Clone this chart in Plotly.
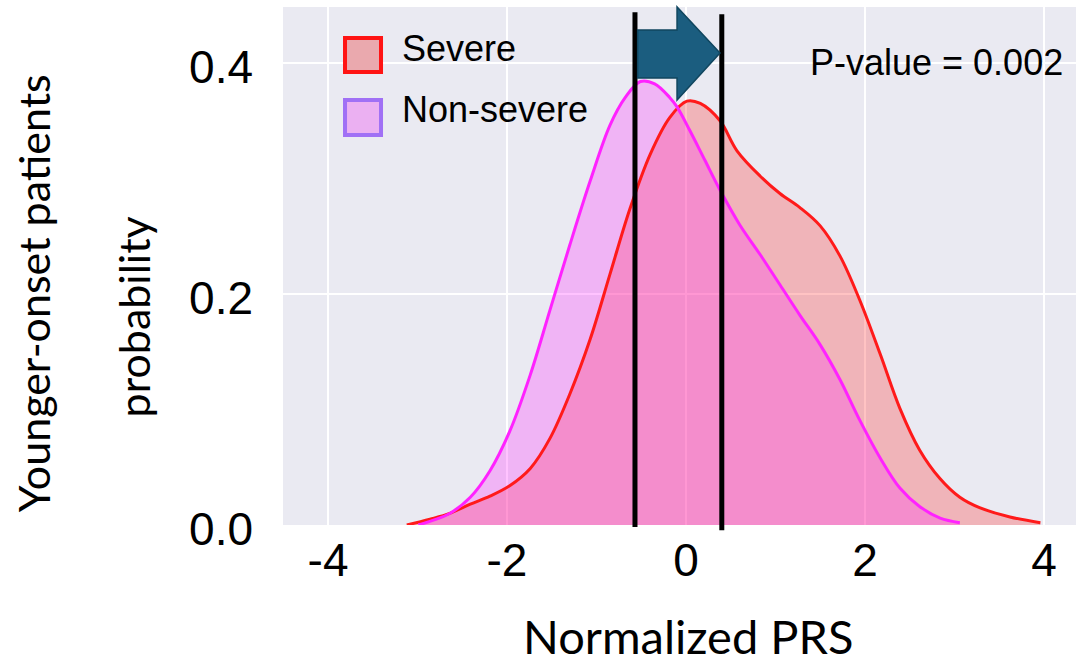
import plotly.graph_objects as go

# ---- data ----
severe_x = [-3.12, -2.86, -2.64, -2.41, -2.19, -1.97, -1.74, -1.52, -1.30, -1.07,
            -0.85, -0.63, -0.40, -0.18, 0.01, 0.16, 0.38, 0.57, 0.83, 1.05,
            1.27, 1.50, 1.72, 1.94, 2.17, 2.39, 2.61, 2.84, 3.06, 3.28, 3.62, 3.96]
severe_y = [0.000, 0.005, 0.010, 0.018, 0.025, 0.034, 0.049, 0.075, 0.113, 0.161,
            0.217, 0.273, 0.321, 0.353, 0.367, 0.365, 0.350, 0.324, 0.302, 0.287,
            0.275, 0.259, 0.233, 0.195, 0.148, 0.101, 0.065, 0.040, 0.024, 0.015, 0.007, 0.002]

nonsevere_x = [-2.99, -2.83, -2.64, -2.41, -2.19, -1.97, -1.74, -1.52, -1.30,
               -1.07, -0.85, -0.68, -0.51, -0.35, -0.18, -0.10, 0.04, 0.21, 0.38,
               0.60, 0.83, 1.05, 1.27, 1.50, 1.72, 1.94, 2.17, 2.39, 2.61, 2.84, 3.06]
nonsevere_y = [0.000, 0.004, 0.010, 0.024, 0.047, 0.081, 0.130, 0.186, 0.242,
               0.298, 0.346, 0.370, 0.384, 0.382, 0.370, 0.362, 0.342, 0.316, 0.290,
               0.260, 0.234, 0.208, 0.182, 0.156, 0.126, 0.091, 0.058, 0.032, 0.016, 0.006, 0.002]

group_centers = [-0.57, 0.40]          # positions of the two black reference lines
series_names = ["Severe", "Non-severe"]
p_value_text = "P-value = 0.002"

x_tickvals = [-4, -2, 0, 2, 4]
x_ticktext = ["-4", "-2", "0", "2", "4"]
y_tickvals = [0.0, 0.2, 0.4]
y_ticktext = ["0.0", "0.2", "0.4"]

RED = "#ff1a1a"
MAG = "#ff22ff"
RED_FILL = "rgba(255,40,40,0.28)"
MAG_FILL = "rgba(255,40,255,0.28)"
ARIAL = "Liberation Sans, Arial, sans-serif"
TITLE_FONT = "Lato, sans-serif"

fig = go.Figure()
# fills first
fig.add_trace(go.Scatter(x=severe_x, y=severe_y, mode="lines", line=dict(width=0, shape="spline"),
                         fill="tozeroy", fillcolor=RED_FILL, showlegend=False, hoverinfo="skip"))
fig.add_trace(go.Scatter(x=nonsevere_x, y=nonsevere_y, mode="lines", line=dict(width=0, shape="spline"),
                         fill="tozeroy", fillcolor=MAG_FILL, showlegend=False, hoverinfo="skip"))
# lines on top
fig.add_trace(go.Scatter(x=severe_x, y=severe_y, mode="lines", name=series_names[0],
                         line=dict(color=RED, width=3, shape="spline"), showlegend=False))
fig.add_trace(go.Scatter(x=nonsevere_x, y=nonsevere_y, mode="lines", name=series_names[1],
                         line=dict(color=MAG, width=3, shape="spline"), showlegend=False))

# black vertical lines
fig.add_shape(type="line", xref="x", yref="paper", x0=group_centers[0], x1=group_centers[0],
              y0=-0.004, y1=0.990, line=dict(color="black", width=5), layer="above")
fig.add_shape(type="line", xref="x", yref="paper", x0=group_centers[1], x1=group_centers[1],
              y0=-0.010, y1=0.986, line=dict(color="black", width=5), layer="above")

# block arrow between the two lines
tail = group_centers[0] + 0.03
tip = group_centers[1] - 0.02
hb = tip - 0.48
path = (f"M {tail},0.9556 L {hb},0.9556 L {hb},1.0 L {tip},0.9112 L {hb},0.8205 "
        f"L {hb},0.8629 L {tail},0.8629 Z")
fig.add_shape(type="path", xref="x", yref="paper", path=path,
              fillcolor="#1b5d7f", line=dict(color="#10465f", width=1.5), layer="above")

# legend swatches
fig.add_shape(type="rect", xref="paper", yref="paper", x0=0.0782, x1=0.1236, y0=0.8745, y1=0.9402,
              fillcolor="#eaa9ae", line=dict(color="#ff1414", width=4), layer="above")
fig.add_shape(type="rect", xref="paper", yref="paper", x0=0.0782, x1=0.1236, y0=0.7529, y1=0.8205,
              fillcolor="#ebb0f2", line=dict(color="#a070f5", width=4), layer="above")
fig.add_annotation(xref="paper", yref="paper", x=0.1475, y=0.9208, text=series_names[0],
                   showarrow=False, xanchor="left", yanchor="middle",
                   font=dict(family=ARIAL, size=36, color="black"))
fig.add_annotation(xref="paper", yref="paper", x=0.1475, y=0.8012, text=series_names[1],
                   showarrow=False, xanchor="left", yanchor="middle",
                   font=dict(family=ARIAL, size=36, color="black"))
fig.add_annotation(xref="paper", yref="paper", x=0.9861, y=0.892, text=p_value_text,
                   showarrow=False, xanchor="right", yanchor="middle",
                   font=dict(family=ARIAL, size=36, color="black"))

# axis titles
fig.add_annotation(xref="paper", yref="paper", x=0.5107, y=-0.214, text="Normalized PRS",
                   showarrow=False, xanchor="center", yanchor="middle",
                   font=dict(family=TITLE_FONT, size=47, color="black"))
fig.add_annotation(xref="paper", yref="paper", x=-0.3135, y=0.448, text="Younger-onset patients",
                   showarrow=False, textangle=-90, xanchor="center", yanchor="middle",
                   font=dict(family=TITLE_FONT, size=43, color="black"))
fig.add_annotation(xref="paper", yref="paper", x=-0.188, y=0.4025, text="probability",
                   showarrow=False, textangle=-90, xanchor="center", yanchor="middle",
                   font=dict(family=TITLE_FONT, size=43, color="black"))

fig.update_layout(
    width=1076, height=664,
    margin=dict(l=283, r=0, t=7, b=139),
    paper_bgcolor="white", plot_bgcolor="#eaeaf2",
    showlegend=False,
    xaxis=dict(range=[-4.503, 4.358], tickvals=x_tickvals, ticktext=x_ticktext,
               showgrid=True, gridcolor="white", gridwidth=2, zeroline=False,
               showline=False, ticks="", ticklabelstandoff=4,
               tickfont=dict(family=ARIAL, size=46, color="black")),
    yaxis=dict(range=[0, 0.4485], tickvals=y_tickvals, ticktext=y_ticktext,
               showgrid=True, gridcolor="white", gridwidth=2, zeroline=False,
               showline=False, ticks="", ticklabelstandoff=29, ticklabelshift=4,
               tickfont=dict(family=ARIAL, size=46, color="black")),
)

fig.write_html("out.html")
